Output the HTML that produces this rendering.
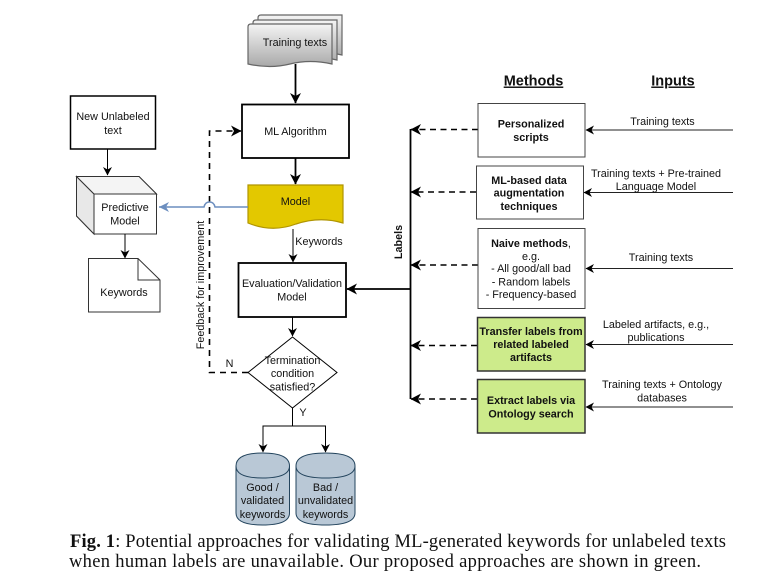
<!DOCTYPE html>
<html>
<head>
<meta charset="utf-8">
<style>
html,body{margin:0;padding:0;background:#fff;width:775px;height:584px;overflow:hidden}
svg{display:block;filter:blur(0.3px)}
text{font-family:"Liberation Sans",sans-serif;font-size:10.8px;fill:#111;text-anchor:middle}
.b{font-weight:bold}
.cap{font-family:"Liberation Serif",serif;font-size:18.5px;text-anchor:start;fill:#111}
</style>
</head>
<body>
<svg width="775" height="584" viewBox="0 0 775 584" xmlns="http://www.w3.org/2000/svg">
<defs>
<linearGradient id="g" x1="0" y1="0" x2="0" y2="1"><stop offset="0" stop-color="#f4f4f4"/><stop offset="1" stop-color="#a9a9a9"/></linearGradient>
<marker id="a" markerWidth="10" markerHeight="10" refX="8" refY="5" orient="auto" markerUnits="userSpaceOnUse"><path d="M0 0.5 L8.5 5 L0 9.5 L2.5 5Z" fill="#000"/></marker>
<marker id="al" markerWidth="12" markerHeight="12" refX="10" refY="6" orient="auto" markerUnits="userSpaceOnUse"><path d="M0 0.5 L10.5 6 L0 11.5 L3 6Z" fill="#000"/></marker>
<marker id="ab" markerWidth="12" markerHeight="12" refX="10" refY="6" orient="auto" markerUnits="userSpaceOnUse"><path d="M0 1 L10 6 L0 11 L3 6Z" fill="#6c8ebf"/></marker>
</defs>

<!-- Training texts stack -->
<g fill="url(#g)" stroke="#666" stroke-width="1.2">
<path d="M258 18 Q258 15 261 15 L342 15 L342 55 Q320 50 300 55 Q280 60 258 55Z"/>
<path d="M253 23 Q253 20 256 20 L337 20 L337 60 Q315 55 295 60 Q275 65 253 60Z"/>
<path d="M248 27 Q248 24 251 24 L332 24 L332 64 Q310 59 290 64 Q270 69 248 64Z"/>
</g>
<text x="295" y="46">Training texts</text>

<!-- centre column -->
<path d="M295.500 64V103" stroke="#000" stroke-width="1.800" fill="none" marker-end="url(#al)"/>
<rect x="242" y="104.500" width="107" height="53.500" fill="#fff" stroke="#000" stroke-width="1.800"/>
<text x="295.500" y="135">ML Algorithm</text>
<path d="M295.500 158V184" stroke="#000" stroke-width="1.800" fill="none" marker-end="url(#al)"/>
<path d="M248 185H343V223Q320 216 296 224Q272 233 248 223Z" fill="#e3c800" stroke="#b09500" stroke-width="1.200"/>
<text x="295.500" y="205">Model</text>
<path d="M293 229V262" stroke="#000" stroke-width="1" fill="none" marker-end="url(#a)"/>
<text x="319" y="245">Keywords</text>
<rect x="238.500" y="263" width="107.500" height="54" fill="#fff" stroke="#000" stroke-width="1.800"/>
<text x="292" y="287">Evaluation/Validation</text>
<text x="292" y="300.500">Model</text>
<path d="M292.500 317V336" stroke="#000" stroke-width="1" fill="none" marker-end="url(#a)"/>
<path d="M292.500 337L337 372.500L292.500 408L248 372.500Z" fill="#fff" stroke="#000" stroke-width="1"/>
<text x="292.500" y="364">Termination</text>
<text x="292.500" y="377">condition</text>
<text x="292.500" y="390.500">satisfied?</text>
<text x="303" y="416">Y</text>
<text x="229.500" y="367">N</text>
<path d="M292.500 408V426M263 452V426H325.500V452" stroke="#000" stroke-width="1" fill="none"/>
<path d="M263 426V452" stroke="#000" fill="none" marker-end="url(#a)"/>
<path d="M325.500 426V452" stroke="#000" fill="none" marker-end="url(#a)"/>

<!-- cylinders -->
<g fill="#b9c8d6" stroke="#23445d" stroke-width="1">
<path d="M236 466Q236 453 262.500 453Q289.500 453 289.500 466V513Q289.500 525 262.500 525Q236 525 236 513Z"/>
<path d="M236 466Q236 478 262.500 478Q289.500 478 289.500 466" fill="none"/>
<path d="M296 466Q296 453 325.500 453Q355 453 355 466V513Q355 525 325.500 525Q296 525 296 513Z"/>
<path d="M296 466Q296 478 325.500 478Q355 478 355 466" fill="none"/>
</g>
<text x="262.500" y="491">Good /</text>
<text x="262.500" y="504">validated</text>
<text x="262.500" y="518">keywords</text>
<text x="325.500" y="491">Bad /</text>
<text x="325.500" y="504">unvalidated</text>
<text x="325.500" y="518">keywords</text>

<!-- feedback -->
<path d="M248 372.500H209.500V131H241" stroke="#000" stroke-width="1.600" stroke-dasharray="6 5" fill="none" marker-end="url(#al)"/>
<text transform="translate(204 285) rotate(-90)" x="0" y="0">Feedback for improvement</text>

<!-- left column -->
<rect x="70.500" y="96" width="85" height="53" fill="#fff" stroke="#000" stroke-width="1.500"/>
<text x="113" y="120">New Unlabeled</text>
<text x="113" y="134">text</text>
<path d="M107.500 149V175" stroke="#000" fill="none" marker-end="url(#a)"/>
<path d="M76.500 176.500H139L156.500 194V234H94L76.500 216Z" fill="#fff" stroke="#333" stroke-width="1"/>
<path d="M76.500 176.500L94 194V234L76.500 216Z" fill="#e8e8e8" stroke="#333" stroke-width="1"/>
<path d="M76.500 176.500H139L156.500 194H94Z" fill="#f4f4f4" stroke="#333" stroke-width="1"/>
<text x="125" y="211">Predictive</text>
<text x="125" y="224.500">Model</text>
<path d="M125 234V258" stroke="#000" fill="none" marker-end="url(#a)"/>
<path d="M88.500 258.500H138L160 280V312H88.500Z" fill="#fff" stroke="#333" stroke-width="1"/>
<path d="M138 258.500V280H160" fill="none" stroke="#333" stroke-width="1"/>
<text x="124" y="296">Keywords</text>

<!-- blue connector -->
<path d="M248 207H215Q214 202 209.500 202Q205 202 204 207H159" stroke="#6c8ebf" stroke-width="1.500" fill="none" marker-end="url(#ab)"/>

<!-- Labels bus -->
<path d="M410.500 129V399" stroke="#000" stroke-width="1.800" fill="none"/>
<path d="M410.500 289H347" stroke="#000" stroke-width="1.800" fill="none" marker-end="url(#al)"/>
<text class="b" transform="translate(402 242) rotate(-90)" x="0" y="0">Labels</text>
<g stroke="#000" stroke-width="1.500" stroke-dasharray="6 4.500" fill="none" marker-end="url(#al)">
<path d="M478 129.500H411"/>
<path d="M476 192H411"/>
<path d="M478 265H411"/>
<path d="M477 345.500H411"/>
<path d="M477 399H411"/>
</g>

<!-- headers -->
<text class="b" x="533.500" y="85.500" style="font-size:14.500px;text-decoration:underline">Methods</text>
<text class="b" x="673" y="85.500" style="font-size:14.500px;text-decoration:underline">Inputs</text>

<!-- method boxes -->
<rect x="478" y="103.500" width="107" height="53.500" fill="#fff" stroke="#444" stroke-width="1"/>
<text class="b" x="531" y="127.500">Personalized</text>
<text class="b" x="531" y="141">scripts</text>
<rect x="476.500" y="166" width="107" height="53" fill="#fff" stroke="#444" stroke-width="1"/>
<text class="b" x="529" y="184">ML-based data</text>
<text class="b" x="529" y="196.500">augmentation</text>
<text class="b" x="529" y="210">techniques</text>
<rect x="478" y="228.500" width="107" height="80" fill="#fff" stroke="#444" stroke-width="1"/>
<text x="531" y="247"><tspan class="b">Naive methods</tspan>,</text>
<text x="531" y="260">e.g.</text>
<text x="531" y="272">- All good/all bad</text>
<text x="531" y="285.500">- Random labels</text>
<text x="531" y="298">- Frequency-based</text>
<rect x="477.500" y="317.500" width="107.500" height="53.500" fill="#cdeb8b" stroke="#333" stroke-width="1.500"/>
<text class="b" x="531" y="335">Transfer labels from</text>
<text class="b" x="531" y="348">related labeled</text>
<text class="b" x="531" y="361">artifacts</text>
<rect x="477.500" y="379.500" width="107.500" height="53.500" fill="#cdeb8b" stroke="#333" stroke-width="1.500"/>
<text class="b" x="531" y="404">Extract labels via</text>
<text class="b" x="531" y="417.500">Ontology search</text>

<!-- inputs -->
<g stroke="#222" stroke-width="1" fill="none" marker-end="url(#a)">
<path d="M733 130H586"/>
<path d="M733 192.500H584"/>
<path d="M733 268.500H586"/>
<path d="M733 344.500H586"/>
<path d="M733 407H586"/>
</g>
<text x="662.500" y="125">Training texts</text>
<text x="656" y="177">Training texts + Pre-trained</text>
<text x="656" y="190">Language Model</text>
<text x="661" y="261">Training texts</text>
<text x="656" y="328">Labeled artifacts, e.g.,</text>
<text x="656" y="341">publications</text>
<text x="662" y="388">Training texts + Ontology</text>
<text x="662" y="401.500">databases</text>

<!-- caption -->
<text class="cap" x="70" y="547" textLength="656" lengthAdjust="spacing"><tspan font-weight="bold">Fig. 1</tspan>: Potential approaches for validating ML-generated keywords for unlabeled texts</text>
<text class="cap" x="69" y="567" textLength="632" lengthAdjust="spacing">when human labels are unavailable. Our proposed approaches are shown in green.</text>
</svg>
</body>
</html>
